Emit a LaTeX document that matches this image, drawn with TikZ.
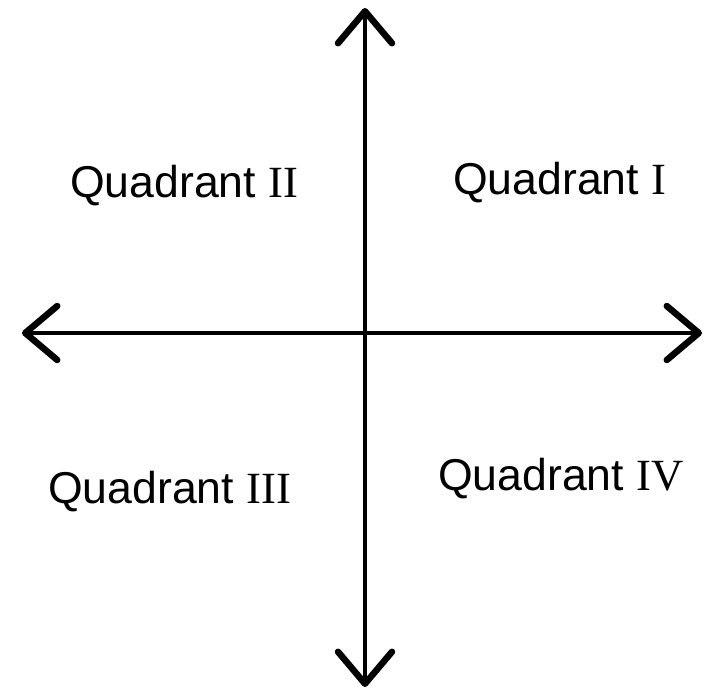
\documentclass[tikz,border=0pt]{standalone}
\usepackage{fontspec}
\setmainfont{Liberation Sans}
\newfontfamily\romanfont{Liberation Serif}
\usetikzlibrary{arrows.meta}
\begin{document}
\begin{tikzpicture}[x=1pt,y=-1pt,
  axis/.style={line width=4.5pt,
    {Straight Barb[length=32pt,width=54pt,line width=6.5pt,round]}-{Straight Barb[length=32pt,width=54pt,line width=6.5pt,round]}},
  qlabel/.style={anchor=base west,inner sep=0pt,font=\fontsize{44.6}{50}\selectfont}]
\useasboundingbox (0,0) rectangle (710,695);
\coordinate (top) at (365,8);
\coordinate (bottom) at (365,687);
\coordinate (left) at (22,333);
\coordinate (right) at (702,333);
\draw[axis] (bottom) -- (top);
\draw[axis] (left) -- (right);
\node[qlabel] (q2) at (70,198) {Quadrant {\romanfont II}};
\node[qlabel] (q1) at (453,195) {Quadrant {\romanfont I}};
\node[qlabel] (q3) at (48,503) {Quadrant {\romanfont III}};
\node[qlabel] (q4) at (438,490) {Quadrant {\romanfont IV}};
\end{tikzpicture}
\end{document}
